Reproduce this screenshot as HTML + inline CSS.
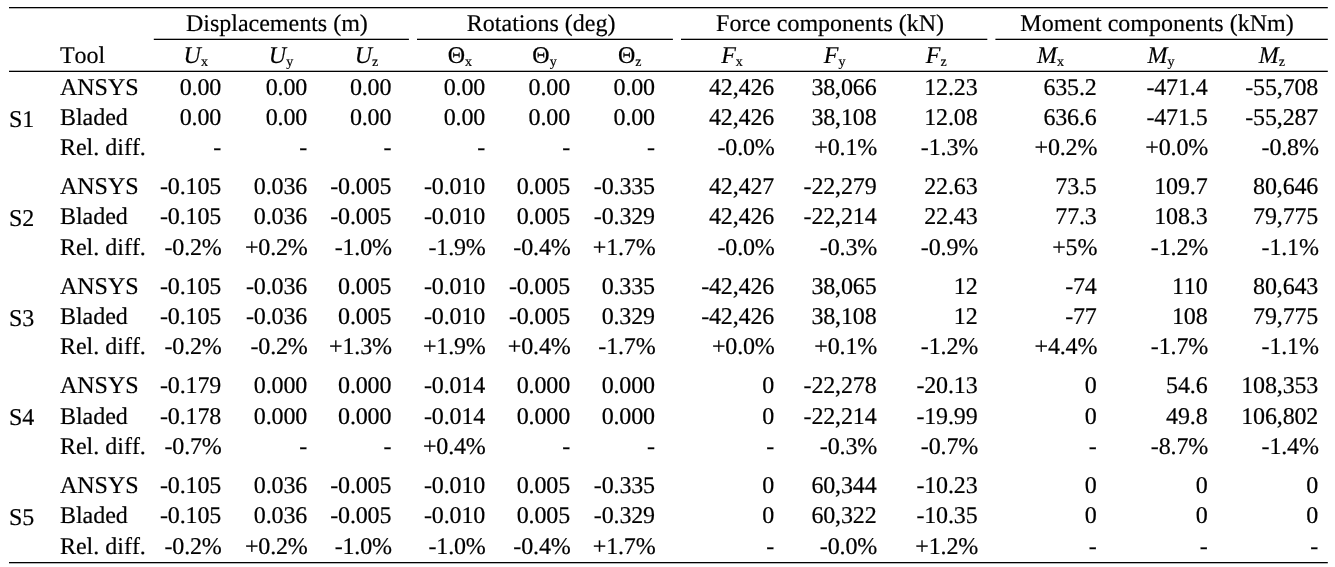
<!DOCTYPE html>
<html><head><meta charset="utf-8"><title>Table</title>
<style>
html,body{margin:0;padding:0;background:#fff;}
body{width:1335px;height:567px;position:relative;overflow:hidden;font-family:"Liberation Serif",serif;font-size:24.0px;color:#000;text-rendering:geometricPrecision;font-kerning:none;-webkit-text-stroke:0.18px #000;}
.t{position:absolute;line-height:1;white-space:nowrap;height:24.0px}
.l{text-align:left}
.r{text-align:right;width:300px;letter-spacing:-0.15px}
.c{text-align:center;width:400px}
.i{font-style:italic}
sub{font-size:14px;vertical-align:baseline;position:relative;top:3px;line-height:0}
.rules{position:absolute;left:0;top:0}
</style></head><body>
<svg class="rules" width="1335" height="567" viewBox="0 0 1335 567" fill="#000">
<rect x="9.00" y="7.00" width="1318.80" height="1.3"/>
<rect x="9.00" y="70.70" width="1318.80" height="1.3"/>
<rect x="9.00" y="562.00" width="1318.80" height="1.3"/>
<rect x="153.80" y="38.70" width="255.10" height="1.3"/>
<rect x="417.00" y="38.70" width="255.90" height="1.3"/>
<rect x="681.00" y="38.70" width="306.30" height="1.3"/>
<rect x="995.40" y="38.70" width="332.40" height="1.3"/>
</svg>
<div class="t c " style="left:76.90px;top:12.00px">Displacements (m)</div>
<div class="t c " style="left:341.20px;top:12.00px">Rotations (deg)</div>
<div class="t c " style="left:630.10px;top:12.00px">Force components (kN)</div>
<div class="t c " style="left:957.00px;top:12.00px">Moment components (kNm)</div>
<div class="t l " style="left:59.90px;top:44.00px">Tool</div>
<div class="t c " style="left:-4.30px;top:44.00px"><span class="i">U</span><sub>x</sub></div>
<div class="t c " style="left:81.00px;top:44.00px"><span class="i">U</span><sub>y</sub></div>
<div class="t c " style="left:166.50px;top:44.00px"><span class="i">U</span><sub>z</sub></div>
<div class="t c " style="left:259.80px;top:44.00px"><span class="">Θ</span><sub>x</sub></div>
<div class="t c " style="left:344.50px;top:44.00px"><span class="">Θ</span><sub>y</sub></div>
<div class="t c " style="left:429.80px;top:44.00px"><span class="">Θ</span><sub>z</sub></div>
<div class="t c " style="left:532.00px;top:44.00px"><span class="i">F</span><sub>x</sub></div>
<div class="t c " style="left:634.60px;top:44.00px"><span class="i">F</span><sub>y</sub></div>
<div class="t c " style="left:736.20px;top:44.00px"><span class="i">F</span><sub>z</sub></div>
<div class="t c " style="left:850.40px;top:44.00px"><span class="i">M</span><sub>x</sub></div>
<div class="t c " style="left:961.00px;top:44.00px"><span class="i">M</span><sub>y</sub></div>
<div class="t c " style="left:1071.80px;top:44.00px"><span class="i">M</span><sub>z</sub></div>
<div class="t l " style="left:9.00px;top:108.00px">S1</div>
<div class="t l " style="left:59.90px;top:76.00px">ANSYS</div>
<div class="t r " style="left:-78.90px;top:76.00px">0.00</div>
<div class="t r " style="left:7.10px;top:76.00px">0.00</div>
<div class="t r " style="left:91.30px;top:76.00px">0.00</div>
<div class="t r " style="left:185.10px;top:76.00px">0.00</div>
<div class="t r " style="left:270.00px;top:76.00px">0.00</div>
<div class="t r " style="left:354.95px;top:76.00px">0.00</div>
<div class="t r " style="left:474.10px;top:76.00px">42,426</div>
<div class="t r " style="left:576.50px;top:76.00px">38,066</div>
<div class="t r " style="left:677.50px;top:76.00px">12.23</div>
<div class="t r " style="left:796.70px;top:76.00px">635.2</div>
<div class="t r " style="left:907.50px;top:76.00px">-471.4</div>
<div class="t r " style="left:1018.20px;top:76.00px">-55,708</div>
<div class="t l " style="left:59.90px;top:106.00px">Bladed</div>
<div class="t r " style="left:-78.90px;top:106.00px">0.00</div>
<div class="t r " style="left:7.10px;top:106.00px">0.00</div>
<div class="t r " style="left:91.30px;top:106.00px">0.00</div>
<div class="t r " style="left:185.10px;top:106.00px">0.00</div>
<div class="t r " style="left:270.00px;top:106.00px">0.00</div>
<div class="t r " style="left:354.95px;top:106.00px">0.00</div>
<div class="t r " style="left:474.10px;top:106.00px">42,426</div>
<div class="t r " style="left:576.50px;top:106.00px">38,108</div>
<div class="t r " style="left:677.50px;top:106.00px">12.08</div>
<div class="t r " style="left:796.70px;top:106.00px">636.6</div>
<div class="t r " style="left:907.50px;top:106.00px">-471.5</div>
<div class="t r " style="left:1018.20px;top:106.00px">-55,287</div>
<div class="t l " style="left:59.90px;top:136.00px">Rel. diff.</div>
<div class="t r " style="left:-78.90px;top:136.00px">-</div>
<div class="t r " style="left:7.10px;top:136.00px">-</div>
<div class="t r " style="left:91.30px;top:136.00px">-</div>
<div class="t r " style="left:185.10px;top:136.00px">-</div>
<div class="t r " style="left:270.00px;top:136.00px">-</div>
<div class="t r " style="left:354.95px;top:136.00px">-</div>
<div class="t r " style="left:474.70px;top:136.00px">-0.0%</div>
<div class="t r " style="left:577.10px;top:136.00px">+0.1%</div>
<div class="t r " style="left:678.10px;top:136.00px">-1.3%</div>
<div class="t r " style="left:797.30px;top:136.00px">+0.2%</div>
<div class="t r " style="left:908.10px;top:136.00px">+0.0%</div>
<div class="t r " style="left:1018.80px;top:136.00px">-0.8%</div>
<div class="t l " style="left:9.00px;top:207.00px">S2</div>
<div class="t l " style="left:59.90px;top:175.00px">ANSYS</div>
<div class="t r " style="left:-78.90px;top:175.00px">-0.105</div>
<div class="t r " style="left:7.10px;top:175.00px">0.036</div>
<div class="t r " style="left:91.30px;top:175.00px">-0.005</div>
<div class="t r " style="left:185.10px;top:175.00px">-0.010</div>
<div class="t r " style="left:270.00px;top:175.00px">0.005</div>
<div class="t r " style="left:354.95px;top:175.00px">-0.335</div>
<div class="t r " style="left:474.10px;top:175.00px">42,427</div>
<div class="t r " style="left:576.50px;top:175.00px">-22,279</div>
<div class="t r " style="left:677.50px;top:175.00px">22.63</div>
<div class="t r " style="left:796.70px;top:175.00px">73.5</div>
<div class="t r " style="left:907.50px;top:175.00px">109.7</div>
<div class="t r " style="left:1018.20px;top:175.00px">80,646</div>
<div class="t l " style="left:59.90px;top:205.00px">Bladed</div>
<div class="t r " style="left:-78.90px;top:205.00px">-0.105</div>
<div class="t r " style="left:7.10px;top:205.00px">0.036</div>
<div class="t r " style="left:91.30px;top:205.00px">-0.005</div>
<div class="t r " style="left:185.10px;top:205.00px">-0.010</div>
<div class="t r " style="left:270.00px;top:205.00px">0.005</div>
<div class="t r " style="left:354.95px;top:205.00px">-0.329</div>
<div class="t r " style="left:474.10px;top:205.00px">42,426</div>
<div class="t r " style="left:576.50px;top:205.00px">-22,214</div>
<div class="t r " style="left:677.50px;top:205.00px">22.43</div>
<div class="t r " style="left:796.70px;top:205.00px">77.3</div>
<div class="t r " style="left:907.50px;top:205.00px">108.3</div>
<div class="t r " style="left:1018.20px;top:205.00px">79,775</div>
<div class="t l " style="left:59.90px;top:236.00px">Rel. diff.</div>
<div class="t r " style="left:-78.30px;top:236.00px">-0.2%</div>
<div class="t r " style="left:7.70px;top:236.00px">+0.2%</div>
<div class="t r " style="left:91.90px;top:236.00px">-1.0%</div>
<div class="t r " style="left:185.70px;top:236.00px">-1.9%</div>
<div class="t r " style="left:270.60px;top:236.00px">-0.4%</div>
<div class="t r " style="left:355.55px;top:236.00px">+1.7%</div>
<div class="t r " style="left:474.70px;top:236.00px">-0.0%</div>
<div class="t r " style="left:577.10px;top:236.00px">-0.3%</div>
<div class="t r " style="left:678.10px;top:236.00px">-0.9%</div>
<div class="t r " style="left:797.30px;top:236.00px">+5%</div>
<div class="t r " style="left:908.10px;top:236.00px">-1.2%</div>
<div class="t r " style="left:1018.80px;top:236.00px">-1.1%</div>
<div class="t l " style="left:9.00px;top:307.00px">S3</div>
<div class="t l " style="left:59.90px;top:275.00px">ANSYS</div>
<div class="t r " style="left:-78.90px;top:275.00px">-0.105</div>
<div class="t r " style="left:7.10px;top:275.00px">-0.036</div>
<div class="t r " style="left:91.30px;top:275.00px">0.005</div>
<div class="t r " style="left:185.10px;top:275.00px">-0.010</div>
<div class="t r " style="left:270.00px;top:275.00px">-0.005</div>
<div class="t r " style="left:354.95px;top:275.00px">0.335</div>
<div class="t r " style="left:474.10px;top:275.00px">-42,426</div>
<div class="t r " style="left:576.50px;top:275.00px">38,065</div>
<div class="t r " style="left:677.50px;top:275.00px">12</div>
<div class="t r " style="left:796.70px;top:275.00px">-74</div>
<div class="t r " style="left:907.50px;top:275.00px">110</div>
<div class="t r " style="left:1018.20px;top:275.00px">80,643</div>
<div class="t l " style="left:59.90px;top:305.00px">Bladed</div>
<div class="t r " style="left:-78.90px;top:305.00px">-0.105</div>
<div class="t r " style="left:7.10px;top:305.00px">-0.036</div>
<div class="t r " style="left:91.30px;top:305.00px">0.005</div>
<div class="t r " style="left:185.10px;top:305.00px">-0.010</div>
<div class="t r " style="left:270.00px;top:305.00px">-0.005</div>
<div class="t r " style="left:354.95px;top:305.00px">0.329</div>
<div class="t r " style="left:474.10px;top:305.00px">-42,426</div>
<div class="t r " style="left:576.50px;top:305.00px">38,108</div>
<div class="t r " style="left:677.50px;top:305.00px">12</div>
<div class="t r " style="left:796.70px;top:305.00px">-77</div>
<div class="t r " style="left:907.50px;top:305.00px">108</div>
<div class="t r " style="left:1018.20px;top:305.00px">79,775</div>
<div class="t l " style="left:59.90px;top:335.00px">Rel. diff.</div>
<div class="t r " style="left:-78.30px;top:335.00px">-0.2%</div>
<div class="t r " style="left:7.70px;top:335.00px">-0.2%</div>
<div class="t r " style="left:91.90px;top:335.00px">+1.3%</div>
<div class="t r " style="left:185.70px;top:335.00px">+1.9%</div>
<div class="t r " style="left:270.60px;top:335.00px">+0.4%</div>
<div class="t r " style="left:355.55px;top:335.00px">-1.7%</div>
<div class="t r " style="left:474.70px;top:335.00px">+0.0%</div>
<div class="t r " style="left:577.10px;top:335.00px">+0.1%</div>
<div class="t r " style="left:678.10px;top:335.00px">-1.2%</div>
<div class="t r " style="left:797.30px;top:335.00px">+4.4%</div>
<div class="t r " style="left:908.10px;top:335.00px">-1.7%</div>
<div class="t r " style="left:1018.80px;top:335.00px">-1.1%</div>
<div class="t l " style="left:9.00px;top:406.00px">S4</div>
<div class="t l " style="left:59.90px;top:374.00px">ANSYS</div>
<div class="t r " style="left:-78.90px;top:374.00px">-0.179</div>
<div class="t r " style="left:7.10px;top:374.00px">0.000</div>
<div class="t r " style="left:91.30px;top:374.00px">0.000</div>
<div class="t r " style="left:185.10px;top:374.00px">-0.014</div>
<div class="t r " style="left:270.00px;top:374.00px">0.000</div>
<div class="t r " style="left:354.95px;top:374.00px">0.000</div>
<div class="t r " style="left:474.10px;top:374.00px">0</div>
<div class="t r " style="left:576.50px;top:374.00px">-22,278</div>
<div class="t r " style="left:677.50px;top:374.00px">-20.13</div>
<div class="t r " style="left:796.70px;top:374.00px">0</div>
<div class="t r " style="left:907.50px;top:374.00px">54.6</div>
<div class="t r " style="left:1018.20px;top:374.00px">108,353</div>
<div class="t l " style="left:59.90px;top:405.00px">Bladed</div>
<div class="t r " style="left:-78.90px;top:405.00px">-0.178</div>
<div class="t r " style="left:7.10px;top:405.00px">0.000</div>
<div class="t r " style="left:91.30px;top:405.00px">0.000</div>
<div class="t r " style="left:185.10px;top:405.00px">-0.014</div>
<div class="t r " style="left:270.00px;top:405.00px">0.000</div>
<div class="t r " style="left:354.95px;top:405.00px">0.000</div>
<div class="t r " style="left:474.10px;top:405.00px">0</div>
<div class="t r " style="left:576.50px;top:405.00px">-22,214</div>
<div class="t r " style="left:677.50px;top:405.00px">-19.99</div>
<div class="t r " style="left:796.70px;top:405.00px">0</div>
<div class="t r " style="left:907.50px;top:405.00px">49.8</div>
<div class="t r " style="left:1018.20px;top:405.00px">106,802</div>
<div class="t l " style="left:59.90px;top:435.00px">Rel. diff.</div>
<div class="t r " style="left:-78.30px;top:435.00px">-0.7%</div>
<div class="t r " style="left:7.10px;top:435.00px">-</div>
<div class="t r " style="left:91.30px;top:435.00px">-</div>
<div class="t r " style="left:185.70px;top:435.00px">+0.4%</div>
<div class="t r " style="left:270.00px;top:435.00px">-</div>
<div class="t r " style="left:354.95px;top:435.00px">-</div>
<div class="t r " style="left:474.10px;top:435.00px">-</div>
<div class="t r " style="left:577.10px;top:435.00px">-0.3%</div>
<div class="t r " style="left:678.10px;top:435.00px">-0.7%</div>
<div class="t r " style="left:796.70px;top:435.00px">-</div>
<div class="t r " style="left:908.10px;top:435.00px">-8.7%</div>
<div class="t r " style="left:1018.80px;top:435.00px">-1.4%</div>
<div class="t l " style="left:9.00px;top:506.00px">S5</div>
<div class="t l " style="left:59.90px;top:474.00px">ANSYS</div>
<div class="t r " style="left:-78.90px;top:474.00px">-0.105</div>
<div class="t r " style="left:7.10px;top:474.00px">0.036</div>
<div class="t r " style="left:91.30px;top:474.00px">-0.005</div>
<div class="t r " style="left:185.10px;top:474.00px">-0.010</div>
<div class="t r " style="left:270.00px;top:474.00px">0.005</div>
<div class="t r " style="left:354.95px;top:474.00px">-0.335</div>
<div class="t r " style="left:474.10px;top:474.00px">0</div>
<div class="t r " style="left:576.50px;top:474.00px">60,344</div>
<div class="t r " style="left:677.50px;top:474.00px">-10.23</div>
<div class="t r " style="left:796.70px;top:474.00px">0</div>
<div class="t r " style="left:907.50px;top:474.00px">0</div>
<div class="t r " style="left:1018.20px;top:474.00px">0</div>
<div class="t l " style="left:59.90px;top:504.00px">Bladed</div>
<div class="t r " style="left:-78.90px;top:504.00px">-0.105</div>
<div class="t r " style="left:7.10px;top:504.00px">0.036</div>
<div class="t r " style="left:91.30px;top:504.00px">-0.005</div>
<div class="t r " style="left:185.10px;top:504.00px">-0.010</div>
<div class="t r " style="left:270.00px;top:504.00px">0.005</div>
<div class="t r " style="left:354.95px;top:504.00px">-0.329</div>
<div class="t r " style="left:474.10px;top:504.00px">0</div>
<div class="t r " style="left:576.50px;top:504.00px">60,322</div>
<div class="t r " style="left:677.50px;top:504.00px">-10.35</div>
<div class="t r " style="left:796.70px;top:504.00px">0</div>
<div class="t r " style="left:907.50px;top:504.00px">0</div>
<div class="t r " style="left:1018.20px;top:504.00px">0</div>
<div class="t l " style="left:59.90px;top:535.00px">Rel. diff.</div>
<div class="t r " style="left:-78.30px;top:535.00px">-0.2%</div>
<div class="t r " style="left:7.70px;top:535.00px">+0.2%</div>
<div class="t r " style="left:91.90px;top:535.00px">-1.0%</div>
<div class="t r " style="left:185.70px;top:535.00px">-1.0%</div>
<div class="t r " style="left:270.60px;top:535.00px">-0.4%</div>
<div class="t r " style="left:355.55px;top:535.00px">+1.7%</div>
<div class="t r " style="left:474.10px;top:535.00px">-</div>
<div class="t r " style="left:577.10px;top:535.00px">-0.0%</div>
<div class="t r " style="left:678.10px;top:535.00px">+1.2%</div>
<div class="t r " style="left:796.70px;top:535.00px">-</div>
<div class="t r " style="left:907.50px;top:535.00px">-</div>
<div class="t r " style="left:1018.20px;top:535.00px">-</div>
</body></html>
